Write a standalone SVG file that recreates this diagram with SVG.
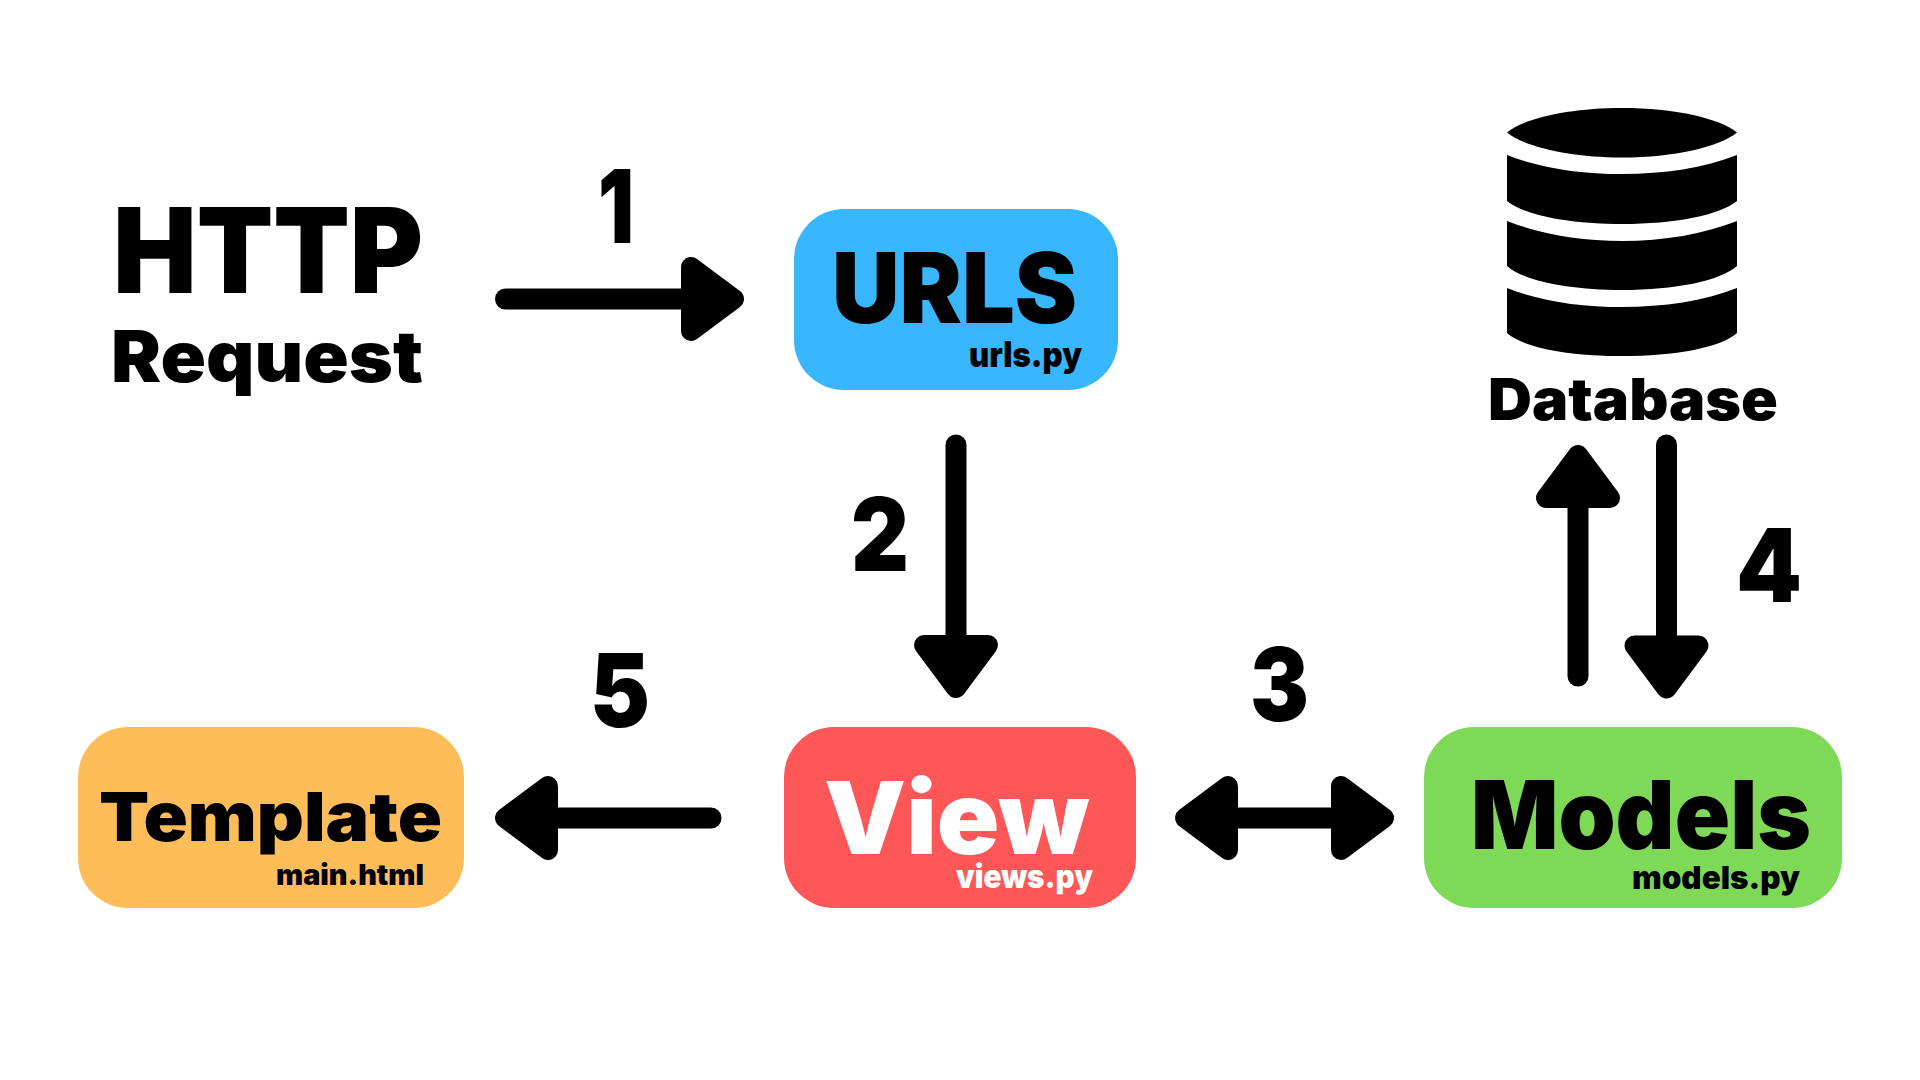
<svg xmlns="http://www.w3.org/2000/svg" width="1920" height="1080" viewBox="0 0 1920 1080">
<style>
text{font-family:"Inter","Noto Sans","Liberation Sans",sans-serif;font-weight:900;fill:#000}
.w{fill:#fff}
.box{rx:50px;ry:50px}
.conn{stroke:#000;stroke-width:21;stroke-linecap:round;fill:none}
</style>
<defs>
<marker id="head" markerUnits="userSpaceOnUse" viewBox="0 -42 63 84" refX="0" refY="0" markerWidth="63" markerHeight="84" orient="auto-start-reverse" overflow="visible">
<polygon points="10,-32 10,32 53,0" fill="#000" stroke="#000" stroke-width="20" stroke-linejoin="round"/>
</marker>
</defs>
<rect width="1920" height="1080" fill="#fff"/>
<g id="connectors">
<line class="conn" x1="505.500" y1="299" x2="681" y2="299" marker-end="url(#head)"/>
<line class="conn" x1="956" y1="445" x2="956" y2="635" marker-end="url(#head)"/>
<line class="conn" x1="711" y1="818" x2="558" y2="818" marker-end="url(#head)"/>
<line class="conn" x1="1238" y1="818" x2="1331" y2="818" marker-start="url(#head)" marker-end="url(#head)"/>
<line class="conn" x1="1578" y1="676" x2="1578" y2="508" marker-end="url(#head)"/>
<line class="conn" x1="1666.500" y1="445" x2="1666.500" y2="635.500" marker-end="url(#head)"/>
</g>
<g id="http-request">
<text x="113" y="293" font-size="118" textLength="310" lengthAdjust="spacingAndGlyphs">HTTP</text>
<text x="111" y="382" font-size="71" textLength="312" lengthAdjust="spacingAndGlyphs">Request</text>
</g>
<g id="urls">
<rect class="box" x="794" y="209" width="324" height="181" fill="#38b6ff"/>
<text x="832" y="323" font-size="97" textLength="245" lengthAdjust="spacingAndGlyphs">URLS</text>
<text x="969" y="367" font-size="35" textLength="113" lengthAdjust="spacingAndGlyphs">urls.py</text>
</g>
<g id="view">
<rect class="box" x="784" y="727" width="352" height="181" fill="#ff5757"/>
<text class="w" x="824" y="854" font-size="101" textLength="265" lengthAdjust="spacingAndGlyphs">View</text>
<text class="w" x="956" y="888" font-size="32" textLength="137" lengthAdjust="spacingAndGlyphs">views.py</text>
</g>
<g id="template">
<rect class="box" x="78" y="727" width="386" height="181" fill="#ffbd59"/>
<text x="99" y="841" font-size="68" textLength="343" lengthAdjust="spacingAndGlyphs">Template</text>
<text x="276" y="885" font-size="28" textLength="148" lengthAdjust="spacingAndGlyphs">main.html</text>
</g>
<g id="models">
<rect class="box" x="1424" y="727" width="418" height="181" fill="#7ed957"/>
<text x="1471" y="849" font-size="95" textLength="340" lengthAdjust="spacingAndGlyphs">Models</text>
<text x="1632" y="889" font-size="32" textLength="168" lengthAdjust="spacingAndGlyphs">models.py</text>
</g>
<g id="database">
<path fill="#000" d="M1507 132.500C1525 118 1570 108 1622 108S1719 118 1737 132.500C1719 147 1674 157.500 1622 157.500S1525 147 1507 132.500Z"/>
<path fill="#000" d="M1507 155C1540 168 1580 174 1622 174S1704 168 1737 155V201C1720 215 1675 224 1622 224S1524 215 1507 201Z"/>
<path fill="#000" d="M1507 221C1540 234 1580 241 1622 241S1704 234 1737 221V266C1720 281 1675 290 1622 290S1524 281 1507 266Z"/>
<path fill="#000" d="M1507 288C1540 301 1580 307 1622 307S1704 301 1737 288V333C1720 348 1675 356 1622 356S1524 348 1507 333Z"/>
<text x="1488" y="420" font-size="58" textLength="290" lengthAdjust="spacingAndGlyphs">Database</text>
</g>
<g id="step-labels">
<text x="598" y="243" font-size="102" textLength="36" lengthAdjust="spacingAndGlyphs">1</text>
<text x="851" y="571" font-size="102" textLength="58" lengthAdjust="spacingAndGlyphs">2</text>
<text x="1250" y="721" font-size="102" textLength="59" lengthAdjust="spacingAndGlyphs">3</text>
<text x="1736" y="602" font-size="102" textLength="66" lengthAdjust="spacingAndGlyphs">4</text>
<text x="590" y="727" font-size="102" textLength="60" lengthAdjust="spacingAndGlyphs">5</text>
</g>
</svg>
